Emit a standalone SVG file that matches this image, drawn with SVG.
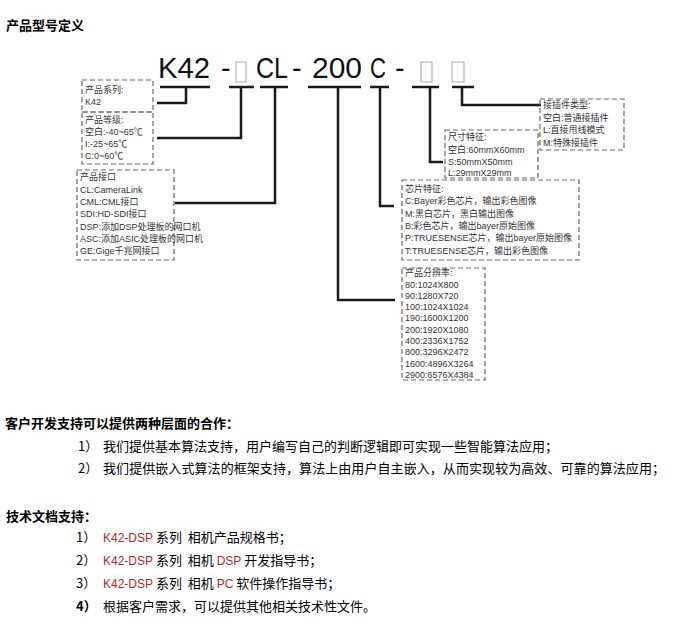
<svg xmlns="http://www.w3.org/2000/svg" width="680" height="639" viewBox="0 0 680 639">
<style>
.h{font-family:"Noto Sans CJK SC","Liberation Sans",sans-serif;font-weight:bold;font-size:13px;fill:#000}
.b{font-family:"Noto Sans CJK SC","Liberation Sans",sans-serif;font-size:13px;fill:#000;white-space:pre}
.big{font-family:"Liberation Sans","Noto Sans",sans-serif;font-size:29px;fill:#111}
.s{font-family:"Liberation Sans","Noto Sans CJK SC",sans-serif;font-size:9px;fill:#333}
.box{fill:none;stroke:#666;stroke-width:1.2;stroke-dasharray:5 3}
.sq{fill:#fff;stroke:#aaa;stroke-width:1}
.ln{fill:none;stroke:#1a1a1a;stroke-width:2.5}
.r{font-family:"Liberation Sans",sans-serif;font-size:12px;fill:#a52a2a}
</style>
<text class="h" x="6" y="30">产品型号定义</text>

<g id="code">
<text class="big" x="158" y="78" textLength="52" lengthAdjust="spacingAndGlyphs">K42</text>
<text class="big" x="221" y="78">-</text>
<rect class="sq" x="236" y="62" width="10" height="20"/>
<text class="big" x="256" y="78" textLength="32" lengthAdjust="spacingAndGlyphs">CL</text>
<text class="big" x="292" y="78">-</text>
<text class="big" x="312" y="78" textLength="50" lengthAdjust="spacingAndGlyphs">200</text>
<text class="big" x="370" y="78" textLength="16" lengthAdjust="spacingAndGlyphs">C</text>
<text class="big" x="395" y="78">-</text>
<rect class="sq" x="421" y="62" width="11" height="20"/>
<rect class="sq" x="452" y="62" width="12" height="20"/>
</g>

<g id="connectors">
<path class="ln" d="M160 87H210M186 87V103H157"/>
<path class="ln" d="M229 87H254M241 87V138H157"/>
<path class="ln" d="M260 87H288M275 87V203H175"/>
<path class="ln" d="M308 87H361M338 87V300H395"/>
<path class="ln" d="M370 87H389M380 87V206H394"/>
<path class="ln" d="M412 87H439M430 87V162H443"/>
<path class="ln" d="M452 87H474M462 87V105H541"/>
</g>

<g id="series">
<rect class="box" x="82" y="80" width="71" height="32"/>
<text class="s" x="85" y="93">产品系列:</text>
<text class="s" x="85" y="105">K42</text>
</g>
<g id="grade">
<rect class="box" x="82" y="112" width="71" height="52"/>
<text class="s" x="85" y="123">产品等级:</text>
<text class="s" x="85" y="135">空白:-40~65℃</text>
<text class="s" x="85" y="147">I:-25~65℃</text>
<text class="s" x="85" y="159">C:0~60℃</text>
</g>
<g id="interface">
<rect class="box" x="77" y="170" width="97" height="90"/>
<text class="s" x="80" y="180">产品接口</text>
<text class="s" x="80" y="192.5">CL:CameraLink</text>
<text class="s" x="80" y="205">CML:CML接口</text>
<text class="s" x="80" y="217">SDI:HD-SDI接口</text>
<text class="s" x="80" y="229.5">DSP:添加DSP处理板的网口机</text>
<text class="s" x="80" y="242">ASC:添加ASIC处理板的网口机</text>
<text class="s" x="80" y="254">GE:Gige千兆网接口</text>
</g>
<g id="connector-type">
<rect class="box" x="540" y="99" width="84" height="51"/>
<text class="s" x="543" y="108">接插件类型:</text>
<text class="s" x="543" y="120.5">空白:普通接插件</text>
<text class="s" x="543" y="133">L:直接甩线模式</text>
<text class="s" x="543" y="145.5">M:特殊接插件</text>
</g>
<g id="size">
<rect class="box" x="445" y="130" width="93" height="48"/>
<text class="s" x="448" y="140">尺寸特征:</text>
<text class="s" x="448" y="153">空白:60mmX60mm</text>
<text class="s" x="448" y="164.5">S:50mmX50mm</text>
<text class="s" x="448" y="176">L:29mmX29mm</text>
</g>
<g id="chip">
<rect class="box" x="402" y="180" width="177" height="80"/>
<text class="s" x="405" y="192">芯片特征:</text>
<text class="s" x="405" y="204">C:Bayer彩色芯片，输出彩色图像</text>
<text class="s" x="405" y="216.5">M:黑白芯片，黑白输出图像</text>
<text class="s" x="405" y="229">B:彩色芯片，输出bayer原始图像</text>
<text class="s" x="405" y="241">P:TRUESENSE芯片，输出bayer原始图像</text>
<text class="s" x="405" y="254">T:TRUESENSE芯片，输出彩色图像</text>
</g>
<g id="resolution">
<rect class="box" x="402" y="268" width="83" height="112"/>
<text class="s" x="405" y="276">产品分辨率:</text>
<text class="s" x="405" y="287.5">80:1024X800</text>
<text class="s" x="405" y="299">90:1280X720</text>
<text class="s" x="405" y="310">100:1024X1024</text>
<text class="s" x="405" y="321">190:1600X1200</text>
<text class="s" x="405" y="332.5">200:1920X1080</text>
<text class="s" x="405" y="344">400:2336X1752</text>
<text class="s" x="405" y="355">800:3296X2472</text>
<text class="s" x="405" y="366.5">1600:4896X3264</text>
<text class="s" x="405" y="378">2900:6576X4384</text>
</g>

<text class="h" x="5" y="428">客户开发支持可以提供两种层面的合作：</text>
<text class="b" x="78" y="451">1）</text>
<text class="b" x="103" y="451">我们提供基本算法支持，用户编写自己的判断逻辑即可实现一些智能算法应用；</text>
<text class="b" x="78" y="473">2）</text>
<text class="b" x="103" y="473" textLength="562">我们提供嵌入式算法的框架支持，算法上由用户自主嵌入，从而实现较为高效、可靠的算法应用；</text>

<text class="h" x="6" y="521">技术文档支持：</text>
<text class="b" x="76" y="542">1）</text>
<text class="b" x="103" y="542"><tspan class="r">K42-DSP</tspan> 系列  相机产品规格书；</text>
<text class="b" x="76" y="565">2）</text>
<text class="b" x="103" y="565"><tspan class="r">K42-DSP</tspan> 系列  相机 <tspan class="r">DSP</tspan> 开发指导书；</text>
<text class="b" x="76" y="588">3）</text>
<text class="b" x="103" y="588"><tspan class="r">K42-DSP</tspan> 系列  相机 <tspan class="r">PC</tspan> 软件操作指导书；</text>
<text class="h" x="76" y="611">4）</text>
<text class="b" x="103" y="611">根据客户需求，可以提供其他相关技术性文件。</text>
</svg>
